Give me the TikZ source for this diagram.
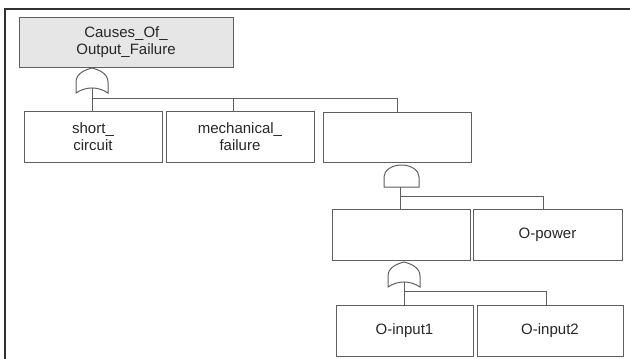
\documentclass[tikz,border=0pt]{standalone}
\usepackage{fontspec}
\setmainfont{Liberation Sans}
\definecolor{edge}{RGB}{95,95,95}
\definecolor{frame}{RGB}{50,50,50}
\definecolor{topfill}{RGB}{230,230,230}
\tikzset{
  evbox/.style={draw=edge, line width=1pt, rectangle, align=center, inner sep=0pt,
    font=\fontsize{15}{17}\selectfont, text=black!85},
  wire/.style={draw=edge, line width=1pt},
  orgate/.pic={\draw[edge, line width=1pt, fill=white]
      (-16,25) -- (-16,14) .. controls (-16,6) and (-8,2) .. (0,0)
      .. controls (8,2) and (16,6) .. (16,14) -- (16,25)
      .. controls (6,18.3) and (-6,18.3) .. cycle;},
  andgate/.pic={\draw[edge, line width=1pt, fill=white]
      (-17.5,0) -- (-17.5,-10) .. controls (-17.5,-16.6) and (-9.7,-22) .. (0,-22)
      .. controls (9.7,-22) and (17.5,-16.6) .. (17.5,-10) -- (17.5,0) -- cycle;}
}
\begin{document}
\begin{tikzpicture}[x=1pt,y=-1pt]
\useasboundingbox (0,0) rectangle (630,359);
% frame
\draw[frame, line width=2pt] (5,360) -- (5,9) -- (631,9);
% boxes
\node[evbox, fill=topfill, minimum width=214pt, minimum height=50pt] (top) at (126,42) {Causes\_Of\_\\Output\_Failure};
\node[evbox, minimum width=138pt, minimum height=51pt] (sc) at (93,136.5) {short\_\\circuit};
\node[evbox, minimum width=148pt, minimum height=51pt] (mf) at (240,136.5) {mechanical\_\\failure};
\node[evbox, minimum width=148pt, minimum height=50pt] (b3) at (397,137) {};
\node[evbox, minimum width=138pt, minimum height=51pt] (b4) at (401,234.5) {};
\node[evbox, minimum width=149pt, minimum height=51pt] (op) at (547.5,234.5) {O-power};
\node[evbox, minimum width=137pt, minimum height=51pt] (i1) at (404.5,330.5) {O-input1};
\node[evbox, minimum width=146pt, minimum height=51pt] (i2) at (550,330.5) {O-input2};
% gates
\coordinate (g1) at (92,68);
\coordinate (g1out) at (92,88);
\pic at (g1) {orgate};
\coordinate (g2) at (401.5,187);
\coordinate (g2out) at (400,187);
\pic at (g2) {andgate};
\coordinate (g3) at (404,262);
\coordinate (g3out) at (404,282);
\pic at (g3) {orgate};
% connectors
\coordinate (bus1) at (92,98);
\draw[wire] (g1out) -- (bus1) -- (bus1 -| b3.north) -- (b3.north);
\draw[wire] (g1out) -- (g1out |- sc.north);
\draw[wire] (233,98) -- (233,111);
\coordinate (bus2) at (400,196);
\draw[wire] (g2out) -- (g2out |- b4.north);
\draw[wire] (bus2) -- (543,196) -- (543,209);
\coordinate (bus3) at (404,291);
\draw[wire] (g3out) -- (g3out |- i1.north);
\draw[wire] (bus3) -- (546,291) -- (546,305);
\end{tikzpicture}
\end{document}
